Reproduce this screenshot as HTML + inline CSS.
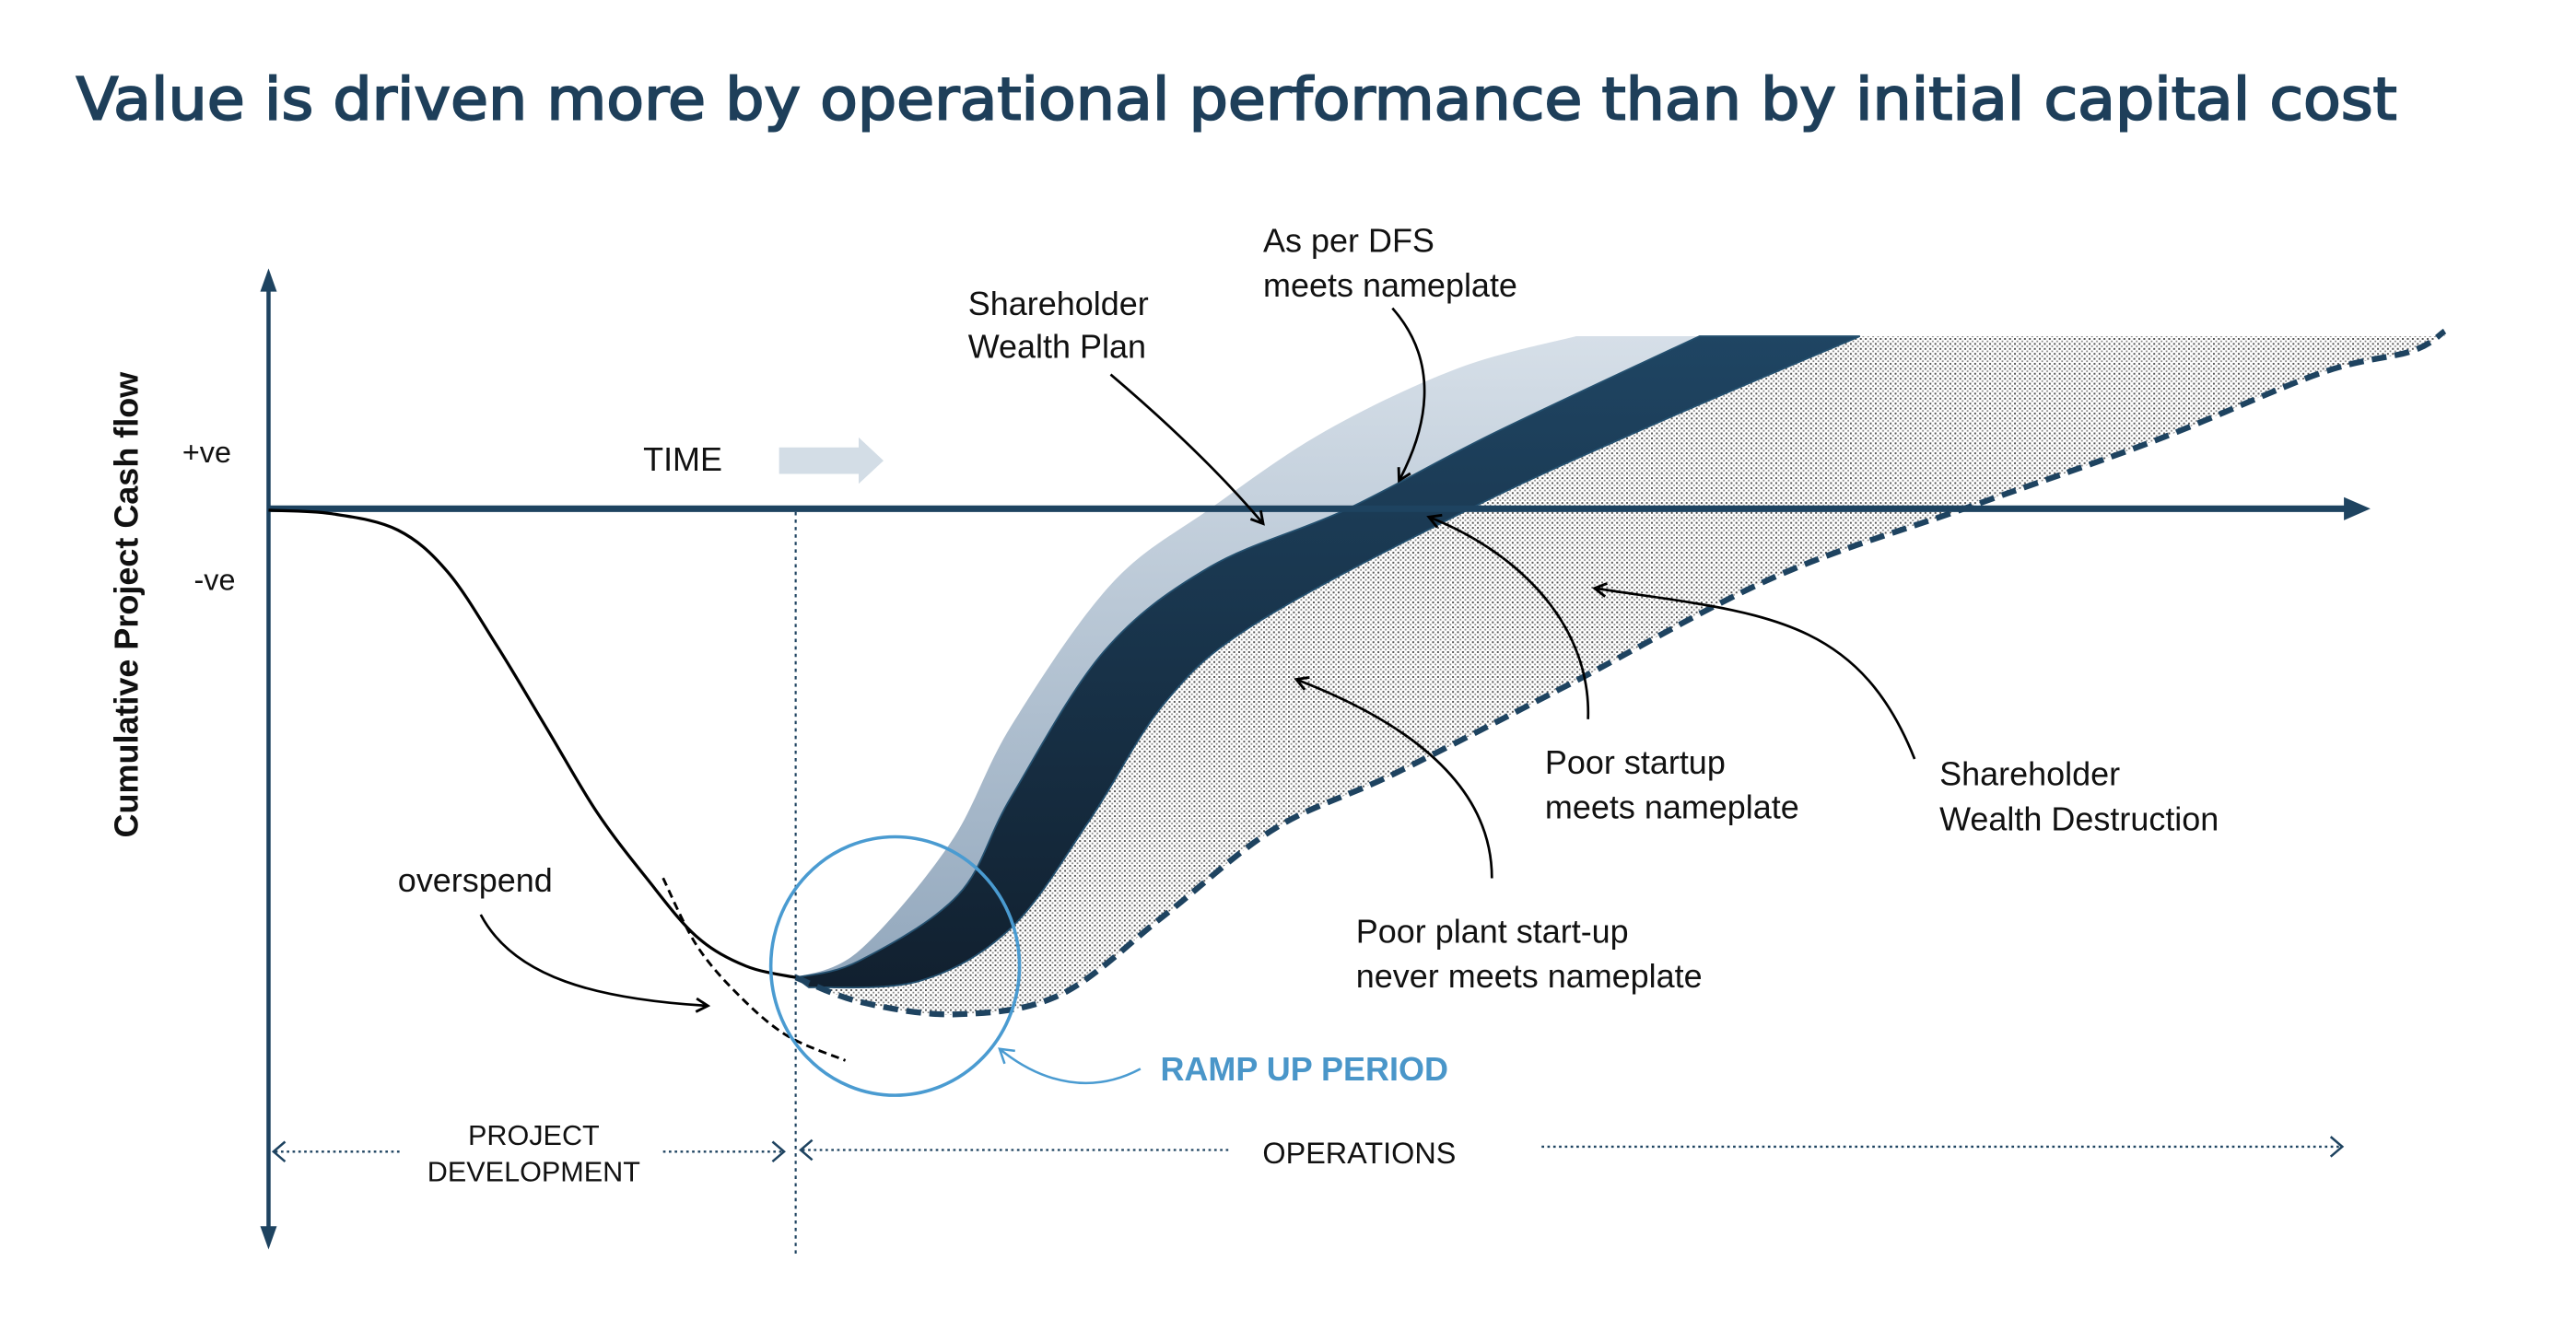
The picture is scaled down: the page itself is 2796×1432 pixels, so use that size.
<!DOCTYPE html>
<html><head><meta charset="utf-8">
<style>
html,body{margin:0;padding:0;background:#fff;}
svg{display:block;}
text{font-family:"Liberation Sans",Arial,sans-serif;}
</style></head>
<body>
<svg id="chart" width="2796" height="1432" viewBox="0 0 1554 796" preserveAspectRatio="none" xmlns="http://www.w3.org/2000/svg">
<defs>
  <pattern id="stipple" width="3" height="3" patternUnits="userSpaceOnUse">
    <rect width="3" height="3" fill="#fff"/>
    <rect x="0" y="0" width="1.1" height="1.1" fill="#555"/>
    <rect x="1.5" y="1.5" width="1" height="1" fill="#888"/>
  </pattern>
  <linearGradient id="lightGrad" x1="0" y1="0" x2="0" y2="1">
    <stop offset="0" stop-color="#d6dfe8"/><stop offset="1" stop-color="#93a8bd"/>
  </linearGradient>
  <linearGradient id="darkGrad" x1="0" y1="0" x2="0" y2="1">
    <stop offset="0" stop-color="#1f4563"/><stop offset="1" stop-color="#11202f"/>
  </linearGradient>
  <marker id="ah" markerWidth="10" markerHeight="10" refX="8" refY="5" orient="auto" markerUnits="userSpaceOnUse">
    <path d="M1,1 L8,5 L1,9" fill="none" stroke="#000" stroke-width="1.6"/>
  </marker>
  <marker id="ahBlue" markerWidth="12" markerHeight="12" refX="9" refY="6" orient="auto" markerUnits="userSpaceOnUse">
    <path d="M1,1 L9,6 L1,11" fill="none" stroke="#4a9bd1" stroke-width="1.4"/>
  </marker>
</defs>

<text x="46" y="72" font-size="35" fill="#1e3f5a" stroke="#1e3f5a" stroke-width="1.1" style="font-family:'DejaVu Sans','Liberation Sans',sans-serif" textLength="1400" lengthAdjust="spacingAndGlyphs">Value is driven more by operational performance than by initial capital cost</text>

<g id="areas"></g>

<line x1="162" y1="170" x2="162" y2="746" stroke="#1e4360" stroke-width="2.5"/>
<path d="M157,176 L162,162 L167,176 Z" fill="#1e4360"/>
<path d="M157,740 L162,754 L167,740 Z" fill="#1e4360"/>
<line x1="162" y1="307" x2="1418" y2="307" stroke="#1e4360" stroke-width="4"/>
<path d="M1414,300 L1430,307 L1414,314 Z" fill="#1e4360"/>
<line x1="480" y1="309" x2="480" y2="758" stroke="#1e4360" stroke-width="1.2" stroke-dasharray="2,2.5"/>

<text transform="translate(83,365) rotate(-90)" text-anchor="middle" font-size="20" font-weight="bold" fill="#111">Cumulative Project Cash flow</text>
<text x="110" y="279" font-size="18" fill="#111">+ve</text>
<text x="117" y="356" font-size="18" fill="#111">-ve</text>
<text x="388" y="284" font-size="20" fill="#111">TIME</text>
<path d="M470,270 L518,270 L518,264 L533,278 L518,292 L518,286 L470,286 Z" fill="#d3dde6"/>

<g id="series"></g>

<ellipse cx="540" cy="583" rx="75" ry="78" fill="none" stroke="#4a9bd1" stroke-width="2"/>
<path d="M688,645 C660,660 630,655 603,633" fill="none" stroke="#4a9bd1" stroke-width="1.4" marker-end="url(#ahBlue)"/>
<text x="700" y="652" font-size="20" font-weight="bold" fill="#4a96c9">RAMP UP PERIOD</text>

<g font-size="20" fill="#111">
<text x="762" y="152">As per DFS<tspan x="762" dy="27">meets nameplate</tspan></text>
<text x="584" y="190">Shareholder<tspan x="584" dy="26">Wealth Plan</tspan></text>
<text x="932" y="467">Poor startup<tspan x="932" dy="27">meets nameplate</tspan></text>
<text x="1170" y="474">Shareholder<tspan x="1170" dy="27">Wealth Destruction</tspan></text>
<text x="818" y="569">Poor plant start-up<tspan x="818" dy="27">never meets nameplate</tspan></text>
<text x="240" y="538">overspend</text>
</g>
<g fill="none" stroke="#000" stroke-width="1.5" marker-end="url(#ah)">
<path d="M840,186 C870,220 860,260 844,290"/>
<path d="M670,226 C710,260 740,290 762,316"/>
<path d="M958,434 C960,380 920,335 862,312"/>
<path d="M1155,458 C1120,370 1060,370 962,355"/>
<path d="M900,530 C900,480 860,440 782,410"/>
<path d="M290,552 C310,590 360,603 427,607"/>
</g>

<g fill="none" stroke="#1e4360" stroke-width="1.3" stroke-dasharray="1.5,2">
<line x1="166" y1="695" x2="242" y2="695"/>
<line x1="400" y1="695" x2="472" y2="695"/>
<line x1="484" y1="694" x2="742" y2="694"/>
<line x1="930" y1="692" x2="1412" y2="692"/>
</g>
<g fill="none" stroke="#1e4360" stroke-width="1.4">
<path d="M172,689 L165,695 L172,701"/><path d="M466,689 L473,695 L466,701"/>
<path d="M490,688 L483,694 L490,700"/><path d="M1406,686 L1413,692 L1406,698"/>
</g>
<text x="322" y="691" text-anchor="middle" font-size="17" fill="#111">PROJECT<tspan x="322" dy="22">DEVELOPMENT</tspan></text>
<text x="820" y="702" text-anchor="middle" font-size="18" fill="#111">OPERATIONS</text>
</svg>

<script>
// data in (time, cumulative cash) units
const devT = [0,4.75,9.75,13.5,17.25,21,24.75,28.5,32.25,36,39.75];
const devV = [-0.3,-1,-4.3,-12.7,-27.7,-44.3,-61,-74.3,-86,-92,-94.3];
const overT = [29.75,32.25,35.4,39.1,43.5];
const overV = [-74.3,-87.7,-97.7,-106,-111];
const planT = [39.75,44.5,51.4,56,63.5,71,79.75,89.75,98.6];
const planV = [-94.3,-89,-67.3,-43.7,-15.3,0,15.7,28.3,34.7];
const dfsUpT = [39.75,44.5,52,56,63,71,81.4,92.25,107.9];
const dfsUpV = [-94.3,-91,-77.7,-58,-28.7,-11.7,0,15,34.7];
const dfsLoT = [40.75,49.1,56,61.9,67.6,74.5,90.6,104.75,120];
const dfsLoV = [-96.3,-95,-84.3,-62.7,-39,-23,0,17.3,34.7];
const poorT = [39.75,44.75,52,59.75,67.6,75.9,84.9,98.1,113.6,128.6,142.25,154.75,161.6,164.1];
const poorV = [-94.3,-99.3,-101.7,-97.7,-81.7,-64.3,-53.3,-35.3,-13.7,0.7,13.7,27.3,31.7,35.7];

const X = t => 162 + t*8;
const Y = v => 307 - v*3;
function pts(T,V){return T.map((t,i)=>[X(t),Y(V[i])]);}
function smooth(p, move){
  let d = (move!==false ? 'M' : 'L') + p[0][0] + ',' + p[0][1];
  for(let i=0;i<p.length-1;i++){
    const p0=p[Math.max(0,i-1)],p1=p[i],p2=p[i+1],p3=p[Math.min(p.length-1,i+2)];
    const c1=[p1[0]+(p2[0]-p0[0])/6,p1[1]+(p2[1]-p0[1])/6];
    const c2=[p2[0]-(p3[0]-p1[0])/6,p2[1]-(p3[1]-p1[1])/6];
    d+=' C'+c1[0].toFixed(1)+','+c1[1].toFixed(1)+' '+c2[0].toFixed(1)+','+c2[1].toFixed(1)+' '+p2[0].toFixed(1)+','+p2[1].toFixed(1);
  }
  return d;
}
const NS='http://www.w3.org/2000/svg';
const areas=document.getElementById('areas');
const series=document.getElementById('series');
function mk(parent,d,attrs){const e=document.createElementNS(NS,'path');e.setAttribute('d',d);for(const k in attrs)e.setAttribute(k,attrs[k]);parent.appendChild(e);return e;}

const poorP=pts(poorT,poorV), loP=pts(dfsLoT,dfsLoV), upP=pts(dfsUpT,dfsUpV), planP=pts(planT,planV);
const topY = Y(dfsLoV[dfsLoV.length-1]);
const dA = smooth(loP) + ' L1475,' + topY + ' ' + smooth(poorP.slice().reverse(),false) + ' Z';
const a1=mk(areas,dA,{fill:'url(#stipple)',stroke:'none'});


const dP = smooth(planP) + ' ' + smooth(upP.slice().reverse(),false) + ' Z';
const a2=mk(areas,dP,{fill:'url(#lightGrad)'});


const dD = smooth(upP) + ' ' + smooth(loP.slice().reverse(),false) + ' Z';
const a3=mk(areas,dD,{fill:'url(#darkGrad)',stroke:'#24506f','stroke-width':'1'});



const l1=mk(series,smooth(pts(devT,devV)),{fill:'none',stroke:'#000','stroke-width':'1.8'});


const l2=mk(series,smooth(pts(overT,overV)),{fill:'none',stroke:'#000','stroke-width':'1.6','stroke-dasharray':'5,3'});


const l3=mk(series,smooth(poorP),{fill:'none',stroke:'#1e4360','stroke-width':'3.5','stroke-dasharray':'9,5'});


</script>
</body></html>
